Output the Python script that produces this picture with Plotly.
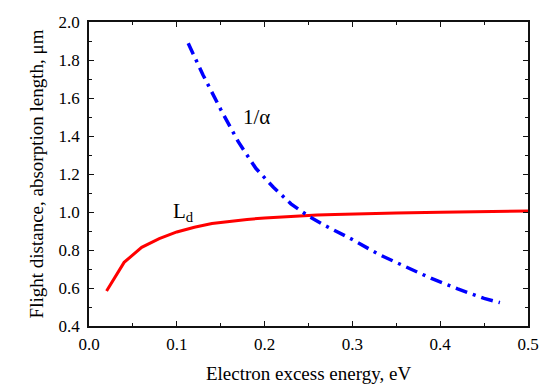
import plotly.graph_objects as go

# Flight distance L_d (red solid)
ld_energy = [0.02, 0.04, 0.06, 0.08, 0.10, 0.12, 0.14, 0.16, 0.18, 0.20, 0.22, 0.24,
             0.26, 0.28, 0.30, 0.35, 0.40, 0.45, 0.50]
ld_length = [0.584, 0.735, 0.814, 0.860, 0.895, 0.920, 0.939, 0.951, 0.961, 0.969, 0.975, 0.980,
             0.984, 0.987, 0.990, 0.995, 0.999, 1.002, 1.005]

# Absorption length 1/alpha (blue dash-dot)
abs_energy = [0.113, 0.13, 0.15, 0.17, 0.19, 0.21, 0.23, 0.25, 0.27, 0.30, 0.33, 0.36,
              0.39, 0.42, 0.45, 0.468]
abs_length = [1.888, 1.72, 1.54, 1.37, 1.23, 1.13, 1.043, 0.978, 0.926, 0.855, 0.777, 0.713,
              0.65, 0.595, 0.545, 0.523]

x_ticks = [0.0, 0.1, 0.2, 0.3, 0.4, 0.5]
x_tick_labels = ["0.0", "0.1", "0.2", "0.3", "0.4", "0.5"]
y_ticks = [0.4, 0.6, 0.8, 1.0, 1.2, 1.4, 1.6, 1.8, 2.0]
y_tick_labels = ["0.4", "0.6", "0.8", "1.0", "1.2", "1.4", "1.6", "1.8", "2.0"]

FONT = "Liberation Serif, Times New Roman, serif"

fig = go.Figure()
fig.add_trace(go.Scatter(x=ld_energy, y=ld_length, mode="lines",
                         line=dict(color="#ff0000", width=3), showlegend=False))
fig.add_trace(go.Scatter(x=abs_energy, y=abs_length, mode="lines",
                         line=dict(color="#0000ff", width=3.5, dash="12px,6px,3px,6px"),
                         showlegend=False))

fig.add_annotation(x=0.191, y=1.50, text="1/α", showarrow=False,
                   font=dict(family=FONT, size=21, color="black"))
fig.add_annotation(x=0.108, y=1.0, text="L<sub>d</sub>", showarrow=False,
                   font=dict(family=FONT, size=21, color="black"))

axis_common = dict(
    showline=True, linecolor="#111111", linewidth=1.6, mirror="allticks",
    ticks="inside", ticklen=5, tickwidth=1.3, tickcolor="#111111",
    showgrid=False, zeroline=False, automargin=False,
    tickfont=dict(family=FONT, size=17, color="black"),
)

fig.update_xaxes(range=[0, 0.5], tickvals=x_ticks, ticktext=x_tick_labels,
                 minor=dict(dtick=0.05, ticks="inside", ticklen=3, tickwidth=1.3, tickcolor="#111111"),
                 title=dict(text="Electron excess energy, eV", font=dict(family=FONT, size=19, color="black"),
                            standoff=13),
                 ticklabelstandoff=2,
                 **axis_common)
fig.update_yaxes(range=[0.4, 2.0], tickvals=y_ticks, ticktext=y_tick_labels,
                 minor=dict(dtick=0.1, ticks="inside", ticklen=3, tickwidth=1.3, tickcolor="#111111"),
                 title=dict(text="Flight distance, absorption length, μm",
                            font=dict(family=FONT, size=19, color="black"), standoff=10),
                 ticklabelstandoff=4,
                 **axis_common)

# the page body adds an 8px offset, so the figure is shrunk to fit the window
fig.update_layout(width=542, height=379, margin=dict(l=81, r=22, t=14, b=61),
                  paper_bgcolor="white", plot_bgcolor="white")

fig.write_html("out.html")
